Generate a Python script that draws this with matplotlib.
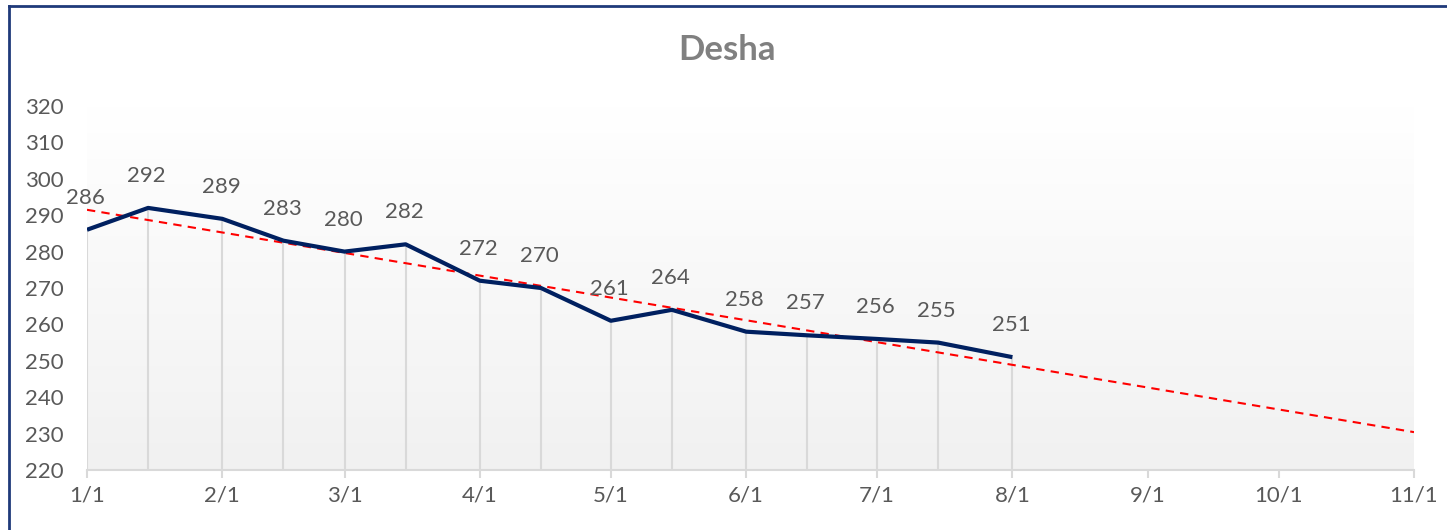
import matplotlib
matplotlib.use("Agg")
import matplotlib.pyplot as plt
import matplotlib.dates as mdates
from matplotlib.lines import Line2D
import numpy as np
import datetime as dt

# ---- data ----
title = "Desha"
dates_str = ["2023-01-01", "2023-01-15", "2023-02-01", "2023-02-15", "2023-03-01",
             "2023-03-15", "2023-04-01", "2023-04-15", "2023-05-01", "2023-05-15",
             "2023-06-01", "2023-06-15", "2023-07-01", "2023-07-15", "2023-08-01"]
values = [286, 292, 289, 283, 280, 282, 272, 270, 261, 264, 258, 257, 256, 255, 251]
tick_months = [1, 2, 3, 4, 5, 6, 7, 8, 9, 10, 11]
y_ticks = [220, 230, 240, 250, 260, 270, 280, 290, 300, 310, 320]
trend_end = "2023-11-01"

plt.rcParams['font.family'] = ['Lato', 'DejaVu Sans']

dates = [dt.datetime.strptime(s, "%Y-%m-%d") for s in dates_str]
xnum = mdates.date2num(dates)
tick_dates = [dt.datetime(2023, m, 1) for m in tick_months]
x0 = mdates.date2num(tick_dates[0])
x1 = mdates.date2num(dt.datetime.strptime(trend_end, "%Y-%m-%d"))

fig = plt.figure(figsize=(14.47, 5.30), dpi=100)
fig.patch.set_facecolor("white")
ax = fig.add_axes([87/1447, 60/530, (1414-87)/1447, (470-106)/530])
ax.set_facecolor("none")
ax.set_xlim(x0, x1)
ax.set_ylim(y_ticks[0], y_ticks[-1])

# gradient background
grad = np.linspace(1.0, 0.0, 256).reshape(-1, 1)
top = np.array([1.0, 1.0, 1.0])
bot = np.array([0xf1, 0xf1, 0xf1]) / 255.0
img = top[None, None, :] * grad[:, :, None] + bot[None, None, :] * (1 - grad[:, :, None])
ax.imshow(img, extent=[x0, x1 + 1, y_ticks[0], y_ticks[-1]], aspect="auto", zorder=0)
ax.set_xlim(x0, x1)

# drop lines
ax.vlines(xnum, y_ticks[0], values, color="#d9d9d9", lw=1.5, zorder=1)

# trendline
coef = np.polyfit(xnum, values, 1)
tx = np.array([x0, x1])
ax.plot(tx, np.polyval(coef, tx), color="#ff0000", lw=1.5, ls=(0, (4, 3)), zorder=3)

# series
ax.plot(xnum, values, color="#002060", lw=3, solid_capstyle="butt", zorder=4)

for x, v in zip(xnum, values):
    ax.annotate(str(v), (x, v), xytext=(-1, 23), textcoords="offset points",
                ha="center", va="center", fontsize=16, color="#595959")

ax.set_xticks(mdates.date2num(tick_dates))
ax.set_xticklabels([f"{d.month}/{d.day}" for d in tick_dates])
ax.set_yticks(y_ticks)
for s in ["top", "right", "left"]:
    ax.spines[s].set_visible(False)
ax.spines["bottom"].set_color("#d9d9d9")
ax.spines["bottom"].set_linewidth(1.5)
ax.tick_params(axis="x", colors="#d9d9d9", length=5.5, width=1.5, pad=6, labelsize=16,
               labelcolor="#595959")
ax.tick_params(axis="y", length=0, pad=17, labelsize=16, labelcolor="#595959")

fig.text(727/1447, 1 - 50/530, title, ha="center", va="center", fontsize=25,
         fontweight="bold", color="#808080")

# border lines (left and top)
fig.add_artist(Line2D([9/1447, 9/1447], [0, 1 - 6/530], color="#1f3a7a", lw=2,
                      transform=fig.transFigure))
fig.add_artist(Line2D([9/1447, 1], [1 - 6/530, 1 - 6/530], color="#1f3a7a", lw=2,
                      transform=fig.transFigure))

fig.savefig("out.png", dpi=100)
